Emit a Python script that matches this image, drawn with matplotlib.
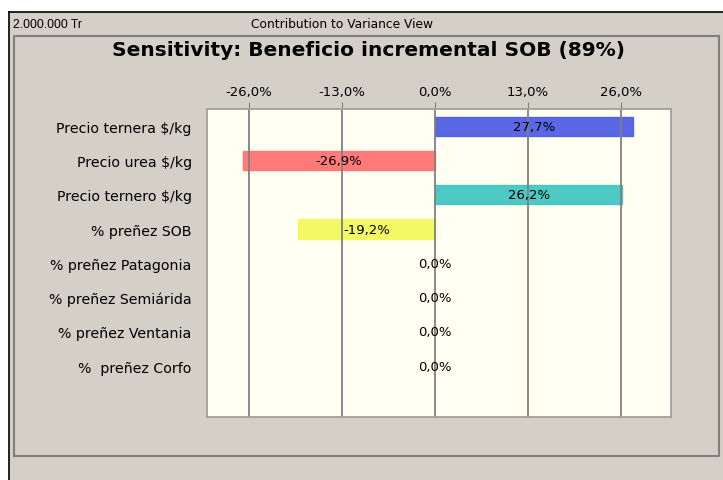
import matplotlib
matplotlib.use("Agg")
import matplotlib.pyplot as plt
from matplotlib.patches import Rectangle
from matplotlib.lines import Line2D

# data
labels = [
    "Precio ternera $/kg",
    "Precio urea $/kg",
    "Precio ternero $/kg",
    "% preñez SOB",
    "% preñez Patagonia",
    "% preñez Semiárida",
    "% preñez Ventania",
    "%  preñez Corfo",
]
contrib = [27.7, -26.9, 26.2, -19.2, 0.0, 0.0, 0.0, 0.0]
bar_colors = ["#5160E6", "#FF7373", "#42C6C0", "#F3F95C",
              "#FFFFFF", "#FFFFFF", "#FFFFFF", "#FFFFFF"]
ticks = [-26, -13, 0, 13, 26]

W, H = 723, 481
PANEL = "#D4D0C8"


def fx(px):
    return px / W


def fy(py):
    return 1 - py / H


fig = plt.figure(figsize=(W / 100, H / 100), dpi=100)
fig.patch.set_facecolor("white")
plt.rcParams["font.family"] = ["DejaVu Sans"]

# window frame
fig.patches.append(Rectangle((fx(9), 0), 1, fy(13), transform=fig.transFigure,
                             facecolor=PANEL, edgecolor="none", zorder=-10))
fig.lines.append(Line2D([fx(9), fx(9)], [0, fy(13)], transform=fig.transFigure,
                        color="black", lw=1.2, zorder=-5))
fig.lines.append(Line2D([fx(9), 1], [fy(13), fy(13)], transform=fig.transFigure,
                        color="black", lw=1.2, zorder=-5))

# header line (trial count is cut off in the original window)
hdr = fig.text(fx(13), fy(25), "2.000.000 Trials", fontsize=8.7,
               family="Liberation Sans", va="center", ha="left")
clip = Rectangle((fx(10), fy(36)), fx(72), fy(14) - fy(36), transform=fig.transFigure)
hdr.set_clip_path(clip)
fig.text(fx(342), fy(25), "Contribution to Variance View", fontsize=8.8,
         va="center", ha="center")

# inner panel (sunken border)
fig.lines.append(Line2D([fx(14), fx(14), fx(719)], [fy(457), fy(37), fy(37)],
                        transform=fig.transFigure, color="#808080", lw=1.5, zorder=-5))
fig.lines.append(Line2D([fx(14), fx(719), fx(719)], [fy(457), fy(457), fy(37)],
                        transform=fig.transFigure, color="#808080", lw=1.5, zorder=-5))

fig.text(fx(368), fy(50), "Sensitivity: Beneficio incremental SOB (89%)",
         fontsize=14.5, fontweight="bold", ha="center", va="center")

# chart
ax = fig.add_axes([fx(207), fy(418), fx(671) - fx(207), fy(110) - fy(418)])
ax.set_facecolor("#FFFFF2")
ypos = list(range(len(labels)))
for y, v, c in zip(ypos, contrib, bar_colors):
    if v != 0:
        ax.barh(y, v, height=0.56, color=c, edgecolor=c, alpha=0.95, zorder=1)
ax.set_xlim(-31.9, 33.0)
ax.set_ylim(8.48, -0.5)
ax.set_xticks(ticks)
ax.set_xticklabels([f"{t:.1f}%".replace(".", ",") for t in ticks], fontsize=9.5)
ax.xaxis.tick_top()
ax.tick_params(axis="x", length=5, color="#808080", pad=3)
ax.set_yticks(ypos)
ax.set_yticklabels(labels, fontsize=10.2)
ax.tick_params(axis="y", length=0, pad=11)
for t in ticks:
    ax.axvline(t, color="#808080", lw=1.3, zorder=2)
for y, v in zip(ypos, contrib):
    ax.text(v / 2, y, f"{v:.1f}%".replace(".", ","), ha="center", va="center",
            fontsize=9.5, zorder=3)
for s in ax.spines.values():
    s.set_color("#A0A0A0")
    s.set_linewidth(1.3)

fig.savefig("out.png", dpi=100, facecolor=fig.get_facecolor())
